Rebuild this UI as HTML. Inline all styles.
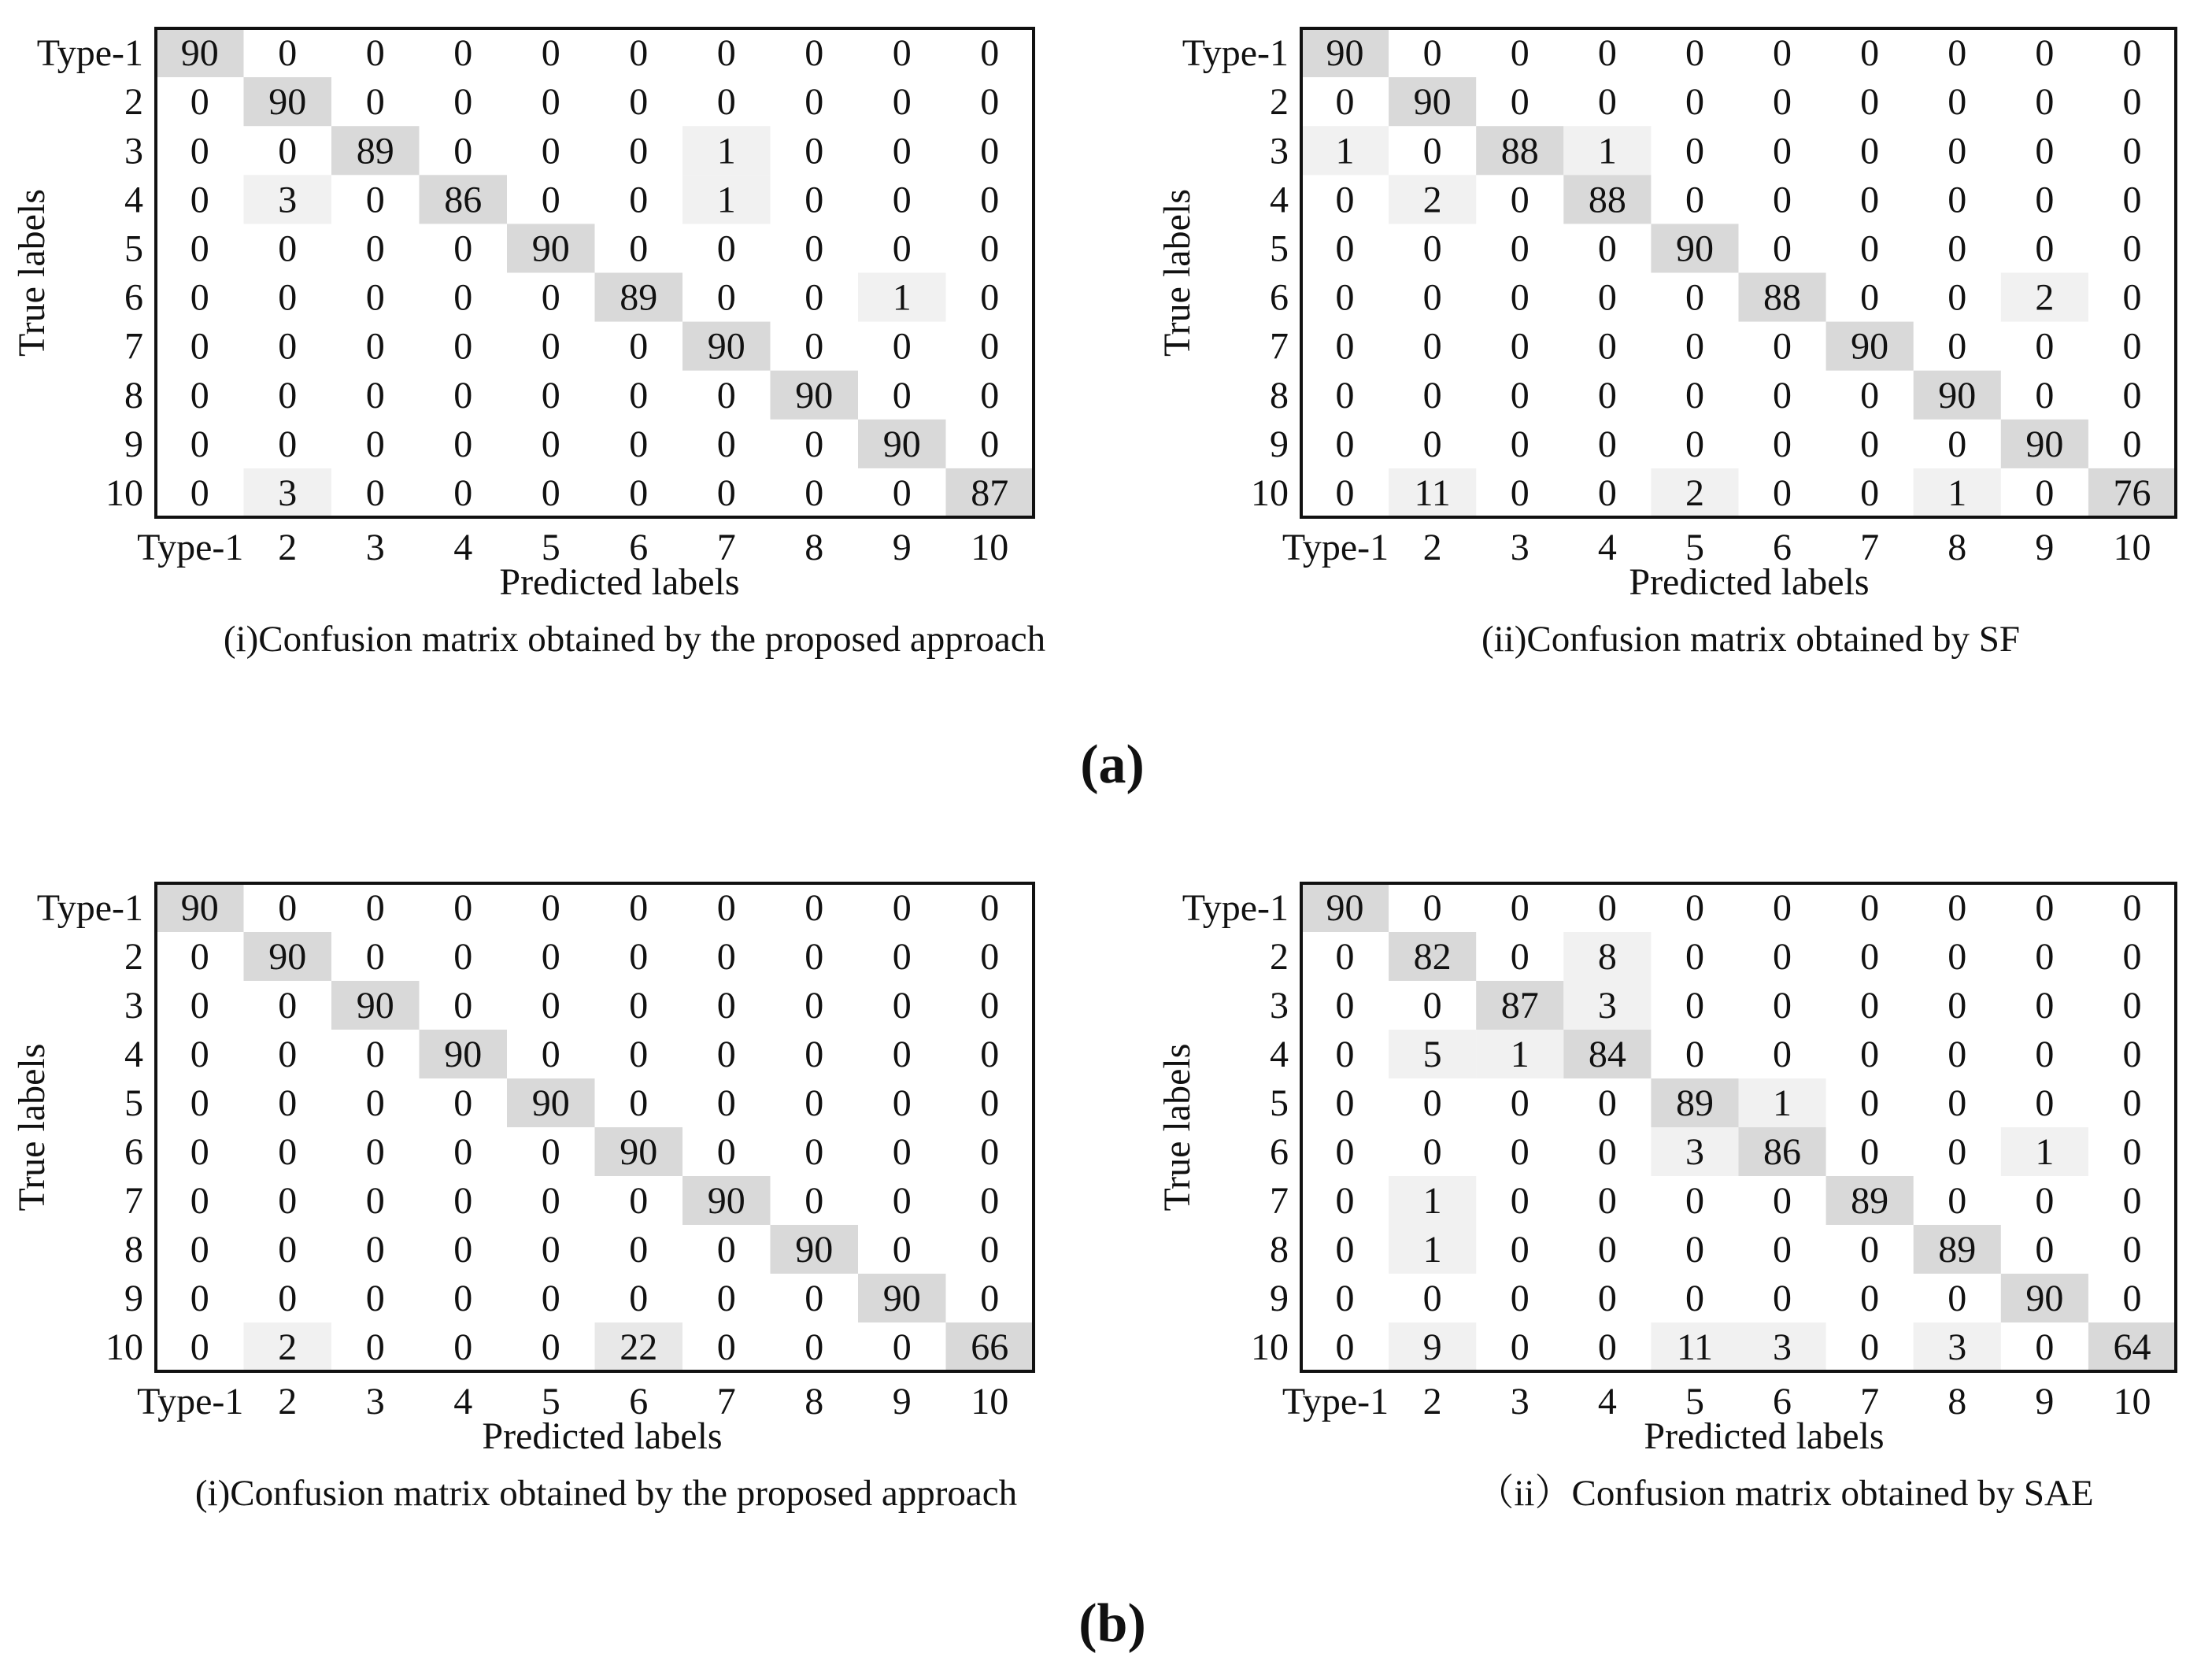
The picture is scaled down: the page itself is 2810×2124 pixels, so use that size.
<!DOCTYPE html>
<html><head><meta charset="utf-8">
<style>
html,body{margin:0;padding:0;background:#fff;}
svg{display:block;}
text{font-family:"Liberation Serif","Noto Serif CJK SC",serif;fill:#111;}
</style></head>
<body>
<svg id="fig" width="2810" height="2124" viewBox="0 0 2810 2124" xmlns="http://www.w3.org/2000/svg"></svg>
<script>
const categories = ["Type-1","2","3","4","5","6","7","8","9","10"];
const matA1 = [
[90,0,0,0,0,0,0,0,0,0],
[0,90,0,0,0,0,0,0,0,0],
[0,0,89,0,0,0,1,0,0,0],
[0,3,0,86,0,0,1,0,0,0],
[0,0,0,0,90,0,0,0,0,0],
[0,0,0,0,0,89,0,0,1,0],
[0,0,0,0,0,0,90,0,0,0],
[0,0,0,0,0,0,0,90,0,0],
[0,0,0,0,0,0,0,0,90,0],
[0,3,0,0,0,0,0,0,0,87]];
const matA2 = [
[90,0,0,0,0,0,0,0,0,0],
[0,90,0,0,0,0,0,0,0,0],
[1,0,88,1,0,0,0,0,0,0],
[0,2,0,88,0,0,0,0,0,0],
[0,0,0,0,90,0,0,0,0,0],
[0,0,0,0,0,88,0,0,2,0],
[0,0,0,0,0,0,90,0,0,0],
[0,0,0,0,0,0,0,90,0,0],
[0,0,0,0,0,0,0,0,90,0],
[0,11,0,0,2,0,0,1,0,76]];
const matB1 = [
[90,0,0,0,0,0,0,0,0,0],
[0,90,0,0,0,0,0,0,0,0],
[0,0,90,0,0,0,0,0,0,0],
[0,0,0,90,0,0,0,0,0,0],
[0,0,0,0,90,0,0,0,0,0],
[0,0,0,0,0,90,0,0,0,0],
[0,0,0,0,0,0,90,0,0,0],
[0,0,0,0,0,0,0,90,0,0],
[0,0,0,0,0,0,0,0,90,0],
[0,2,0,0,0,22,0,0,0,66]];
const matB2 = [
[90,0,0,0,0,0,0,0,0,0],
[0,82,0,8,0,0,0,0,0,0],
[0,0,87,3,0,0,0,0,0,0],
[0,5,1,84,0,0,0,0,0,0],
[0,0,0,0,89,1,0,0,0,0],
[0,0,0,0,3,86,0,0,1,0],
[0,1,0,0,0,0,89,0,0,0],
[0,1,0,0,0,0,0,89,0,0],
[0,0,0,0,0,0,0,0,90,0],
[0,9,0,0,11,3,0,3,0,64]];
const captions = ["(i)Confusion matrix obtained by the proposed approach","(ii)Confusion matrix obtained by SF","(i)Confusion matrix obtained by the proposed approach","\uFF08ii\uFF09Confusion matrix obtained by SAE"];

const NS="http://www.w3.org/2000/svg";
const svg=document.getElementById('fig');
function mk(tag,attrs,parent){const e=document.createElementNS(NS,tag);for(const k in attrs)e.setAttribute(k,attrs[k]);(parent||svg).appendChild(e);return e;}
function txt(s,attrs,parent){const e=mk('text',attrs,parent);e.textContent=s;return e;}

const panels=[
 {m:matA1,x0:198,x1:1313,y0:36,y1:657,cap:captions[0],capX:806,predX:787,name:'a-i'},
 {m:matA2,x0:1653,x1:2764,y0:36,y1:657,cap:captions[1],capX:2224,predX:2222,name:'a-ii'},
 {m:matB1,x0:198,x1:1313,y0:1122,y1:1742,cap:captions[2],capX:770,predX:765,name:'b-i'},
 {m:matB2,x0:1653,x1:2764,y0:1122,y1:1742,cap:captions[3],capX:2268,predX:2241,name:'b-ii'}];

function fillFor(v){ if(v>=40) return '#d9d9d9'; if(v>=15) return '#e8e8e8'; if(v>0) return '#f1f1f1'; return 'none'; }

panels.forEach(p=>{
  const g=mk('g',{});
  
  
  const n=categories.length, cw=(p.x1-p.x0)/n, ch=(p.y1-p.y0)/n;
  const xs=i=>p.x0+i*cw, ys=j=>p.y0+j*ch;
  p.m.forEach((row,r)=>row.forEach((v,c)=>{
    const f=fillFor(v);
    if(f!=='none'){
      const rc=mk('rect',{x:xs(c),y:ys(r),width:cw,height:ch,fill:f},g);
      
      
    }
    const t=txt(String(v),{x:xs(c)+cw/2,y:ys(r)+ch/2+16,'text-anchor':'middle','font-size':48},g);
    
    
  }));
  const fr=mk('rect',{x:p.x0,y:p.y0,width:p.x1-p.x0,height:p.y1-p.y0,fill:'none',stroke:'#111','stroke-width':4},g);
  
  
  categories.forEach((c,i)=>{
    const yt=txt(c,{x:p.x0-16,y:ys(i)+ch/2+16,'text-anchor':'end','font-size':48},g);
    
    
    const xt=txt(c,{x:xs(i)+cw/2-(i===0?12:0),y:p.y1+54,'text-anchor':'middle','font-size':48},g);
    
    
  });
  const pl=txt('Predicted labels',{x:p.predX,y:p.y1+98,'text-anchor':'middle','font-size':48},g);
  
  
  const cy=(p.y0+p.y1)/2, tx=p.x0-142;
  const tl=txt('True labels',{x:tx,y:cy,'text-anchor':'middle','font-size':48,transform:'rotate(-90 '+tx+' '+cy+')'},g);
  
  
  const cp=txt(p.cap,{x:p.capX,y:p.y1+170,'text-anchor':'middle','font-size':47},g);
  
  
});
const la=txt('(a)',{x:1413,y:994,'text-anchor':'middle','font-size':70,'font-weight':'bold'});


const lb=txt('(b)',{x:1413,y:2085,'text-anchor':'middle','font-size':70,'font-weight':'bold'});


</script>
</body></html>
